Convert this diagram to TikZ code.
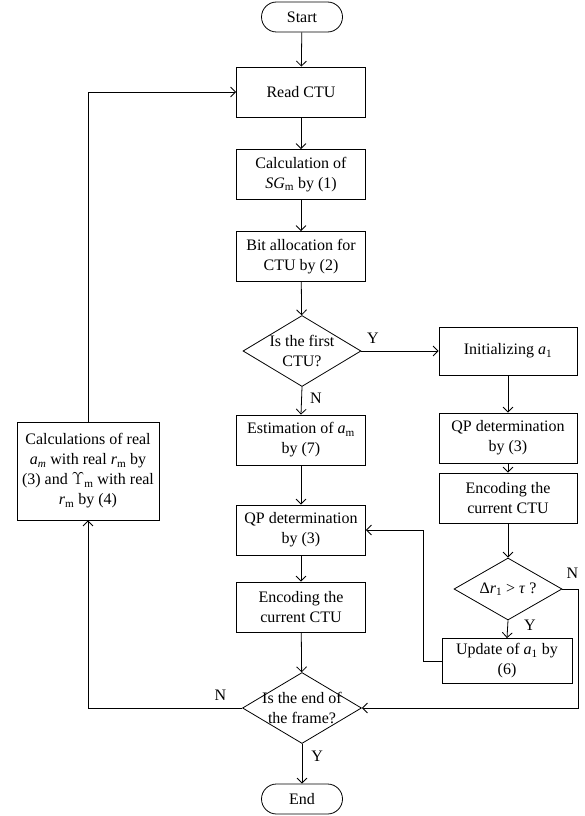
\documentclass[tikz,border=0pt]{standalone}
\usepackage{fontspec}
\setmainfont{Liberation Serif}
\usetikzlibrary{shapes.geometric, arrows.meta, positioning}
\newcommand{\vsub}[2]{\textit{#1}\textsubscript{#2}}

\tikzset{
  every node/.style={font=\fontsize{16}{20}\selectfont},
  proc/.style={draw, rectangle, align=center, minimum width=129pt, minimum height=50pt, inner sep=0pt},
  term/.style={draw, rounded corners=15pt, minimum width=81pt, minimum height=30pt, inner sep=0pt},
  decide/.style={draw, diamond, minimum width=118pt, minimum height=71pt, inner sep=0pt},
  dtext/.style={align=center, inner sep=0pt},
  flow/.style={-{Straight Barb[length=5pt,width=10pt]}},
  lab/.style={inner sep=0pt},
}

\begin{document}
\begin{tikzpicture}[x=1pt, y=-1pt, line width=0.8pt]
\useasboundingbox (0,0) rectangle (584,816);

% main column
\node[term] (start) at (302,17) {Start};
\node[proc] (read) at (301,92) {Read CTU};
\node[proc] (sg) at (301,174.5) {Calculation of\\ \textit{SG}\textsubscript{m} by (1)};
\node[proc] (bit) at (301,256.5) {Bit allocation for\\ CTU by (2)};
\node[decide, label={[dtext]center:Is the first\\ CTU?}] (first) at (302,351) {};
\node[proc] (est) at (301,440) {Estimation of \vsub{a}{m}\\ by (7)};
\node[proc] (qpm) at (301,530) {QP determination\\ by (3)};
\node[proc] (encm) at (301,607) {Encoding the\\ current CTU};
\node[decide, minimum width=119pt, label={[dtext]center:Is the end of\\ the frame?}] (last) at (302,708) {};
\node[term] (end) at (302,799) {End};

% right column
\node[proc, minimum width=138pt, minimum height=48pt] (init) at (508,351) {Initializing \vsub{a}{1}};
\node[proc, minimum width=138pt] (qpr) at (508,438) {QP determination\\ by (3)};
\node[proc, minimum width=138pt] (encr) at (508,498) {Encoding the\\ current CTU};
\node[decide, minimum width=108pt, minimum height=62pt, label={[dtext]center:Δ\vsub{r}{1} > \textit{τ} ?}] (dr) at (508,589) {};
\node[proc, minimum width=130pt, minimum height=45pt] (upd) at (507,661) {Update of \vsub{a}{1} by\\ (6)};

% left column
\node[proc, minimum width=142pt, minimum height=98pt] (calc) at (88,471) {Calculations of real\\ \vsub{a}{\textit{m}} with real \vsub{r}{m} by\\ (3) and $\Upsilon$\textsubscript{m} with real\\ \vsub{r}{m} by (4)};

% connectors
\draw[flow] (start) -- (read);
\draw[flow] (read) -- (sg);
\draw[flow] (sg) -- (bit);
\draw[flow] (bit) -- (first);
\draw[flow] (first.east) -- node[lab, pos=0.15, above=7pt]{Y} (init.west);
\draw[flow] (first.south) -- node[lab, pos=0.4, right=8pt]{N} (est.north);
\draw[flow] (est) -- (qpm);
\draw[flow] (qpm) -- (encm);
\draw[flow] (encm) -- (last);
\draw[flow] (last.south) -- node[lab, pos=0.3, right=9pt]{Y} (end.north);

\draw[flow] (init) -- (qpr);
\draw[flow] (qpr) -- (encr);
\draw[flow] (encr) -- (dr);
\draw[flow] (dr.south) -- node[lab, pos=0.3, right=16pt]{Y} (upd.north);
\draw[flow] (upd.west) -- ++(-18,0) |- (qpm.east);
\draw[flow] (dr.east) -- ++(16,0) node[lab, anchor=south, xshift=-6pt, yshift=10pt]{N} |- (last.east);

\draw[flow] (last.west) -| node[lab, pos=0.07, above=7pt]{N} (calc.south);
\draw[flow] (calc.north) |- (read.west);
\end{tikzpicture}
\end{document}
